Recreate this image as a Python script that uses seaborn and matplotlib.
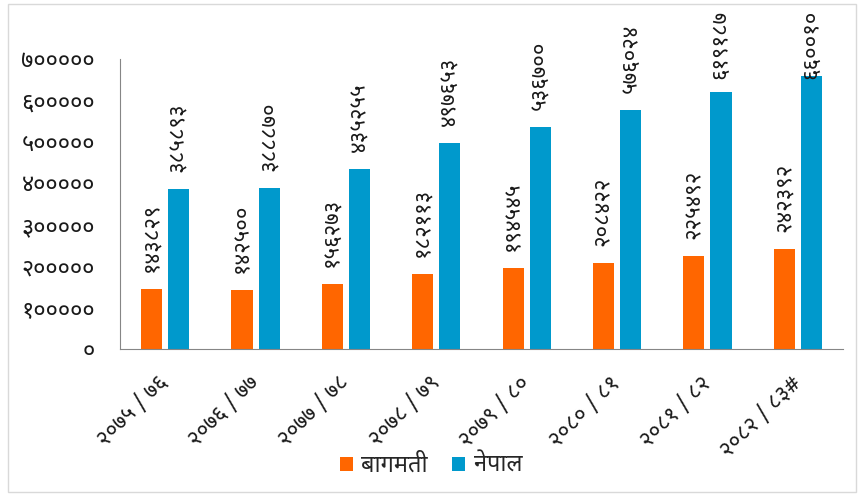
import matplotlib
matplotlib.use("Agg")
import matplotlib.pyplot as plt
import seaborn as sns
import pandas as pd
from matplotlib import font_manager as fm
from matplotlib.ft2font import FT2Font
from matplotlib.patches import Rectangle, Patch

# ---------------- data ----------------
years = ["२०७५ / ७६", "२०७६ / ७७", "२०७७ / ७८", "२०७८ / ७९",
         "२०७९ / ८०", "२०८० / ८१", "२०८१ / ८२", "२०८२ / ८३#"]
bagmati = [143829, 142500, 156273, 182113, 194545, 208422, 225492, 242392]
nepal = [385893, 388870, 435255, 497653, 536700, 576024, 619187, 660010]
series_names = ["बागमती", "नेपाल"]
yticks = [0, 100000, 200000, 300000, 400000, 500000, 600000, 700000]

# ---------------- font ----------------
def find_deva():
    preferred = ["Kalimati", "Noto Sans Devanagari", "Lohit Devanagari", "Mukti",
                 "FreeSans", "Mangal", "Nirmala UI"]
    found = {}
    for f in fm.fontManager.ttflist:
        try:
            cmap = FT2Font(f.fname).get_charmap()
        except Exception:
            continue
        if 0x0915 in cmap and 0x0966 in cmap:
            found.setdefault(f.name, f.fname)
    for p in preferred:
        if p in found:
            return p
    return next(iter(found), None)

deva = find_deva()
fam = ([deva] if deva else []) + ["DejaVu Sans"]

DIG = str.maketrans("0123456789", "०१२३४५६७८९")
def dev(n):
    return str(n).translate(DIG)

# ---------------- plot ----------------
sns.set_style("white")
plt.rcParams["font.family"] = fam

df = pd.DataFrame({
    "year": years * 2,
    "value": bagmati + nepal,
    "region": [series_names[0]] * len(years) + [series_names[1]] * len(years),
})

orange = "#FF6600"
blue = "#0099CC"
txt = "#1a1a1a"

fig = plt.figure(figsize=(8.62, 4.96), dpi=100)
ax = fig.add_axes([120 / 862, 1 - 349 / 496, 723 / 862, 290 / 496])

sns.barplot(data=df, x="year", y="value", hue="region", palette=[orange, blue],
            width=0.60, gap=0.22, ax=ax, legend=False, saturation=1,
            edgecolor="none", linewidth=0)

ax.set_ylim(0, 700000)
ax.set_xlim(-0.5, len(years) - 0.5)
ax.set_yticks(yticks)
ax.set_yticklabels([dev(v) for v in yticks], fontsize=17, color=txt)
ax.set_xticks(range(len(years)))
ax.set_xticklabels(years, rotation=45, ha="right", va="center",
                   rotation_mode="anchor", fontsize=16, color=txt)
ax.set_xlabel("")
ax.set_ylabel("")

# category-boundary ticks on x axis
ax.set_xticks([i - 0.5 for i in range(len(years) + 1)], minor=True)
ax.tick_params(axis="x", which="major", length=0, pad=22)
ax.tick_params(axis="x", which="minor", length=5, color="#868686", width=0.8)
ax.tick_params(axis="y", length=4, color="#868686", width=0.8, pad=14)

for s in ["top", "right"]:
    ax.spines[s].set_visible(False)
for s in ["left", "bottom"]:
    ax.spines[s].set_color("#868686")
    ax.spines[s].set_linewidth(0.8)

# value labels: outside end, kept inside the chart area at the top
label_gap = 41000      # ~17 px above the bar
label_cap = 651700     # highest allowed label bottom (keeps text inside chart)
for cont in ax.containers:
    for b in cont:
        h = b.get_height()
        ypos = min(h + label_gap, label_cap)
        ax.text(b.get_x() + b.get_width() / 2, ypos, dev(int(round(h))),
                rotation=90, ha="center", va="bottom", fontsize=16,
                color=txt, clip_on=False)

handles = [Patch(facecolor=orange, edgecolor="none"),
           Patch(facecolor=blue, edgecolor="none")]
fig.legend(handles, series_names, loc="center", ncol=2, frameon=False,
           bbox_to_anchor=(0.5, 1 - 466 / 496), fontsize=17, handlelength=0.55,
           handleheight=0.55, handletextpad=0.35, columnspacing=1.05)

fig.add_artist(Rectangle((8 / 862, 4 / 496), 848 / 862, 488 / 496,
                         transform=fig.transFigure, fill=False,
                         edgecolor="#D9D9D9", linewidth=1))

fig.savefig("out.png", dpi=100)
